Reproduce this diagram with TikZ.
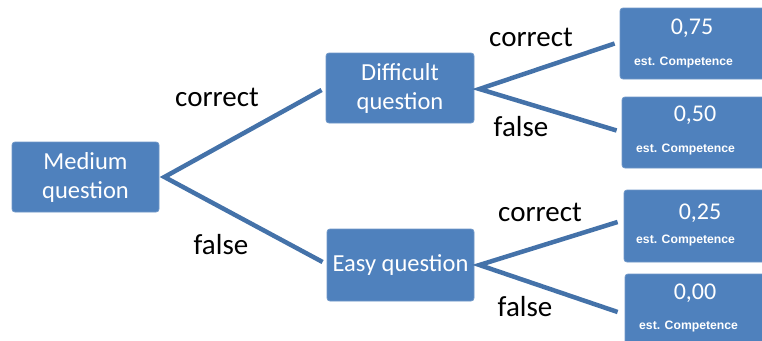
\documentclass[tikz,border=0pt]{standalone}
\usepackage{fontspec}
\setmainfont{Carlito}
\newfontfamily\smallfont{Liberation Sans}
\definecolor{boxblue}{HTML}{4F81BD}
\definecolor{boxedge}{HTML}{6F97C8}
\definecolor{linkblue}{HTML}{4472A9}
\begin{document}
\begin{tikzpicture}[x=1pt,y=-1pt,
  qbox/.style={draw=boxedge,line width=0.8pt,fill=boxblue,rounded corners=3pt,text=white,
    font=\fontsize{24.5}{29}\selectfont,align=center,inner sep=0pt},
  leafbox/.style={draw=boxedge,line width=0.8pt,fill=boxblue,rounded corners=3pt,inner sep=0pt},
  numtext/.style={text=white,font=\fontsize{24}{29}\selectfont,inner sep=0pt},
  esttext/.style={text=white,font=\smallfont\bfseries\fontsize{12.2}{14}\selectfont,inner sep=0pt,anchor=west},
  lbl/.style={font=\fontsize{29}{34}\selectfont,inner sep=0pt,text=black},
  link/.style={draw=linkblue,line width=4.5pt,line join=miter}]
\useasboundingbox (0,0) rectangle (762,340);
\node[qbox,minimum width=147pt,minimum height=70pt] (med) at (85.5,177) {Medium\\question};
\node[qbox,minimum width=148pt,minimum height=70pt] (diff) at (400,88) {Difficult\\question};
\node[qbox,minimum width=147pt,minimum height=72pt] (easy) at (400.5,265) {Easy question};
\node[leafbox,minimum width=150pt,minimum height=71pt] (l1) at (695,43.5) {};
\node[leafbox,minimum width=150pt,minimum height=71pt] (l2) at (697,132.5) {};
\node[leafbox,minimum width=150pt,minimum height=72pt] (l3) at (699,226) {};
\node[leafbox,minimum width=150pt,minimum height=72pt] (l4) at (700,310) {};
\node[numtext] (n1) at (692,28) {0,75};
\node[esttext] (e1) at (634,63) {est. Competence};
\node[numtext] (n2) at (695,115) {0,50};
\node[esttext] (e2) at (636,150) {est. Competence};
\node[numtext] (n3) at (700,213) {0,25};
\node[esttext] (e3) at (636,241) {est. Competence};
\node[numtext] (n4) at (695,293) {0,00};
\node[esttext] (e4) at (639,327) {est. Competence};
\draw[link] ([xshift=-4pt,yshift=-2pt]diff.west) -- ([xshift=5pt]med.east) -- ([xshift=-4pt,yshift=3pt]easy.west);
\draw[link] ([xshift=-5pt]l1.west) -- ([xshift=5pt,yshift=-1pt]diff.east) -- ([xshift=-5pt,yshift=2pt]l2.west);
\draw[link] ([xshift=-6pt,yshift=4pt]l3.west) -- ([xshift=5pt]easy.east) -- ([xshift=-7pt,yshift=-2pt]l4.west);
\node[lbl] (c1) at (217,97) {correct};
\node[lbl] (f1) at (221,245) {false};
\node[lbl] (c2) at (531,37) {correct};
\node[lbl] (f2) at (521,127) {false};
\node[lbl] (c3) at (540,212) {correct};
\node[lbl] (f3) at (525,307) {false};
\end{tikzpicture}
\end{document}
